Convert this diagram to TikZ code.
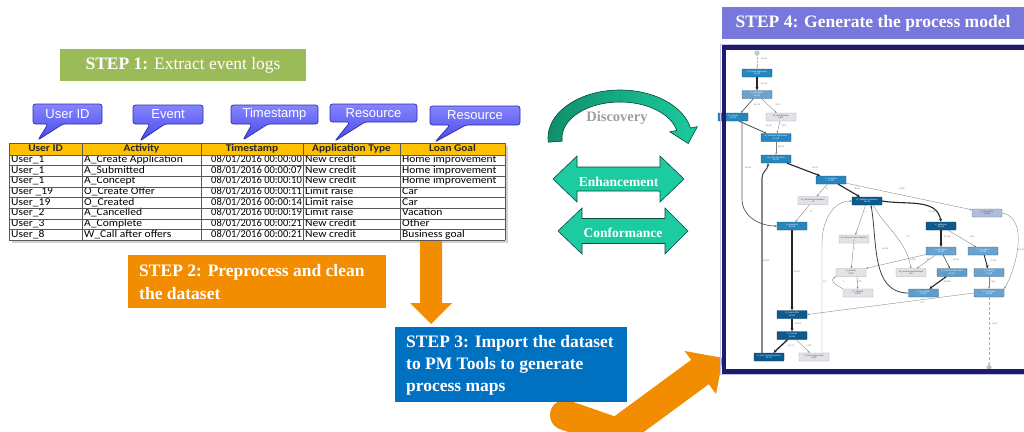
\documentclass[tikz,border=0pt]{standalone}
\usepackage{fontspec}
\setmainfont{Liberation Serif}
\newfontfamily\arialf{Liberation Sans}
\newfontfamily\calf[FakeStretch=1.1]{Carlito}
\newfontfamily\calft{Carlito}
\usetikzlibrary{arrows.meta}
\definecolor{sgreen}{HTML}{9BBB59}
\definecolor{sorange}{HTML}{F28C00}
\definecolor{sblue}{HTML}{0070C0}
\definecolor{spurple}{HTML}{7878DC}
\definecolor{navy}{HTML}{1C1C6B}
\definecolor{callA}{HTML}{8585FF}
\definecolor{callB}{HTML}{4848EA}
\definecolor{callE}{HTML}{2E2EA8}
\definecolor{tealD}{HTML}{0F8F6C}
\definecolor{tealL}{HTML}{1CCB9F}
\definecolor{tealE}{HTML}{0B4A3A}
\definecolor{hdr}{HTML}{FFC000}
\definecolor{pmdark}{HTML}{0C5A8E}
\definecolor{pmmid}{HTML}{2786BE}
\definecolor{pmlight}{HTML}{6AA3D0}
\definecolor{pmpale}{HTML}{AFBDDD}
\definecolor{pmgrey}{HTML}{E3E2E9}
\tikzset{
  stepfont/.style={font=\fontsize{17.5}{22}\selectfont, text=white},
  callshape/.style={rounded corners=2.5pt, top color=callA, bottom color=callB, draw=callE, line width=0.7pt},
  calltext/.style={font=\arialf\fontsize{13}{15}\selectfont, text=white, inner sep=0},
  hcell/.style={font=\calf\bfseries\fontsize{10.3}{11}\selectfont, text=black!85, inner sep=0, text height=6.8pt, text depth=2pt},
  dcell/.style={font=\calf\fontsize{10.5}{11}\selectfont, text=black, inner sep=0, anchor=west, text height=6.8pt, text depth=2pt},
  tcell/.style={dcell, font=\calft\fontsize{10.5}{11}\selectfont, anchor=east},
  gline/.style={draw=black!65, line width=0.5pt},
  pm/.style={rectangle, rounded corners=0.7pt, minimum width=30pt, minimum height=8pt, inner sep=0, align=center, font=\arialf\fontsize{2.1}{2.5}\selectfont, line width=0.35pt},
  pmD/.style={pm, fill=pmdark, draw=pmdark!60!black, text=white},
  pmM/.style={pm, fill=pmmid, draw=pmmid!60!black, text=white},
  pmL/.style={pm, fill=pmlight, draw=pmlight!60!black, text=white},
  pmP/.style={pm, fill=pmpale, draw=pmpale!60!black, text=black!70},
  pmG/.style={pm, fill=pmgrey, draw=black!35, text=black!75},
  pe/.style={draw=black!50, line width=0.35pt, -{Stealth[length=2.2pt,width=1.8pt]}},
  pet/.style={draw=black!85, line width=1.1pt, -{Stealth[length=3.2pt,width=3pt]}},
  pl/.style={font=\arialf\fontsize{2.1}{2.5}\selectfont, text=black!55, inner sep=0.2pt},
  greenarrow/.style={fill=tealL, draw=tealE, line width=0.6pt},
  gtext/.style={font=\fontsize{13.5}{15}\selectfont\bfseries, text=white, inner sep=0}
}
\begin{document}
\begin{tikzpicture}[x=1pt,y=1pt]
\useasboundingbox (0,0) rectangle (1024,-431);
\fill[white] (0,0) rectangle (1024,-431);

% STEP 1
\node[stepfont, fill=sgreen, minimum width=246pt, minimum height=32pt, inner sep=0] (s1) at (183,-65) {{\bfseries STEP 1:} Extract event logs};

% callouts
\path[callshape] (33,-104) -- (102,-104) -- (102,-124) -- (63,-124) -- (38,-140) -- (48,-124) -- (33,-124) -- cycle;
\node[calltext] (c1) at (67.5,-114) {User ID};
\path[callshape] (133,-105) -- (203,-105) -- (203,-124) -- (165,-124) -- (140,-141) -- (150,-124) -- (133,-124) -- cycle;
\node[calltext] (c2) at (168,-114.5) {Event};
\path[callshape] (231,-105) -- (318,-105) -- (318,-124) -- (268,-124) -- (243,-140) -- (252,-124) -- (231,-124) -- cycle;
\node[calltext] (c3) at (274.5,-114.5) {Timestamp};
\path[callshape] (330,-104) -- (417,-104) -- (417,-122) -- (365,-122) -- (335,-141) -- (350,-122) -- (330,-122) -- cycle;
\node[calltext] (c4) at (373.5,-113) {Resource};
\path[callshape] (430,-106) -- (520,-106) -- (520,-125) -- (466,-125) -- (435,-142) -- (450,-125) -- (430,-125) -- cycle;
\node[calltext] (c5) at (475,-115.5) {Resource};

% table
\fill[black!18] (12,-146) rectangle (508,-243);
\fill[white] (9,-143) rectangle (505,-240);
\fill[hdr] (9,-143) rectangle (505,-155);
\node[hcell] (h1) at (45.5,-149) {User ID};
\node[hcell] (h2) at (141.5,-149) {Activity};
\node[hcell] (h3) at (252,-149) {Timestamp};
\node[hcell] (h4) at (351.5,-149) {Application Type};
\node[hcell] (h5) at (452.5,-149) {Loan Goal};
\foreach \i/\u/\a/\s/\p/\g in {
 0/User\_1/A\_Create Application/00/New credit/Home improvement,
 1/User\_1/A\_Submitted/07/New credit/Home improvement,
 2/User\_1/A\_Concept/10/New credit/Home improvement,
 3/User \_19/O\_Create Offer/11/Limit raise/Car,
 4/User\_19/O\_Created/14/Limit raise/Car,
 5/User\_2/A\_Cancelled/19/Limit raise/Vacation,
 6/User\_3/A\_Complete/21/New credit/Other,
 7/User\_8/W\_Call after offers/21/New credit/Business goal}{
  \pgfmathsetmacro\yy{-(155+10.625*(\i+0.5))}
  \node[dcell] (u\i) at (11,\yy) {\u};
  \node[dcell] (a\i) at (84,\yy) {\a};
  \node[tcell] (t\i) at (302,\yy) {08/01/2016 00:00:\s};
  \node[dcell] (p\i) at (305,\yy) {\p};
  \node[dcell] (g\i) at (402,\yy) {\g};
}
\foreach \k in {0,...,8}{
  \draw[gline] (9,{-(155+10.625*\k)}) -- (505,{-(155+10.625*\k)});
}
\draw[gline] (9,-143) -- (505,-143);
\foreach \xx in {9,82,201,303,400,505}{
  \draw[gline] (\xx,-143) -- (\xx,-240);
}

% STEP 2
\fill[sorange] (128,-255) rectangle (386,-308);
\node[stepfont, font=\fontsize{17.5}{23}\selectfont\bfseries, anchor=west, align=left, inner sep=0] (s2) at (139,-282) {STEP 2: Preprocess and clean\\the dataset};

% orange down arrow
\fill[sorange] (420,-241) -- (442,-241) -- (442,-303) -- (452,-303) -- (431,-324) -- (410,-303) -- (420,-303) -- cycle;

% big orange chevron arrow
\draw[sorange, line width=30pt, line cap=round, line join=miter] (565,-415) -- (617,-433) -- (700,-372);
\fill[sorange] (716,-394) -- (723,-358) -- (684.6,-351) -- cycle;

% STEP 3
\fill[sblue] (395,-327) rectangle (627,-402);
\node[stepfont, font=\fontsize{17.5}{22}\selectfont\bfseries, anchor=west, align=left, inner sep=0] (s3) at (406,-365) {STEP 3: Import the dataset\\to PM Tools to generate\\process maps};

% green arrows
\path[greenarrow, left color=tealD, right color=tealL]
  plot[domain=185:12, samples=60] ({620+72*cos(\x)},{-138+48*sin(\x)})
  -- (697.3,-126.7) -- (688.2,-143.5) -- (669.8,-131.8)
  -- plot[domain=12:185, samples=60] ({620+58*cos(\x)},{-138+36*sin(\x)}) -- cycle;
\node[font=\fontsize{14.5}{16}\selectfont\bfseries, text=black!38, inner sep=0] (disc) at (617,-118) {Discovery};
\path[greenarrow] (553,-179) -- (577,-156) -- (577,-167) -- (660,-167) -- (660,-156) -- (684,-179) -- (660,-202) -- (660,-191) -- (577,-191) -- (577,-202) -- cycle;
\node[gtext] (enh) at (618.5,-182) {Enhancement};
\path[greenarrow] (558,-231) -- (582,-208) -- (582,-218.5) -- (665,-218.5) -- (665,-208) -- (688,-231) -- (665,-254) -- (665,-243.5) -- (582,-243.5) -- (582,-254) -- cycle;
\node[gtext] (conf) at (623,-233) {Conformance};

% STEP 4
\node[stepfont, font=\fontsize{17.5}{22}\selectfont\bfseries, fill=spurple, minimum width=302pt, minimum height=32pt, inner sep=0] (s4) at (873,-23) {STEP 4: Generate the process model};
\fill[white] (724,-47) rectangle (1030,-371.5);

% process model nodes
\node[circle, fill=green!25!gray!40, draw=gray!70, line width=0.3pt, minimum size=4.5pt, inner sep=0] (st) at (757,-53) {};
\node[pmM] (cra) at (757,-73) {A\_Create Application\\31,509};
\node[pmL] (sub) at (757,-94.5) {A\_Submitted\\20,423};
\node[pmM] (con) at (733,-117) {A\_Concept\\31,509};
\node[pmG] (whl) at (781,-117) {W\_Handle leads\\5,897};
\node[pmM] (wca) at (776,-137.5) {W\_Complete application\\20,423};
\node[pmM] (wco) at (776,-159) {W\_Call after offers\\25,000};
\node[pmM] (acomp) at (831,-180) {A\_Complete\\31,362};
\node[pmG] (wsc) at (813,-200.5) {W\_Shortened completion\\74};
\node[pmD] (wva) at (867,-201) {W\_Validate application\\38,816};
\node[pmP] (acan) at (987,-213) {A\_Cancelled\\10,431};
\node[pmM] (aacc) at (792,-226) {A\_Accepted\\31,509};
\node[pmD] (aval) at (941,-226) {A\_Validating\\38,816};
\node[pmG] (wplc) at (854,-239) {W\_Personal Loan collection\\2};
\node[pmL] (oret) at (941,-251) {O\_Returned\\23,305};
\node[pmL] (oacc) at (983,-251) {O\_Accepted\\17,228};
\node[pmG] (aden) at (851,-272.5) {A\_Denied\\3,753};
\node[pmG] (wapf) at (911,-272.5) {W\_Assess potential fraud\\300};
\node[pmL, fill=pmlight!80!pmmid] (wcif) at (952,-272.5) {W\_Call incomplete files\\23,055};
\node[pmL] (apend) at (989,-272.5) {A\_Pending\\17,228};
\node[pmG] (oref) at (858,-293) {O\_Refused\\4,695};
\node[pmL, fill=pmlight!80!pmmid] (ainc) at (923.5,-293) {A\_Incomplete\\23,055};
\node[pmL] (ocan) at (989,-293) {O\_Cancelled\\20,898};
\node[pmD] (oco) at (792,-314.5) {O\_Create Offer\\42,995};
\node[pmD] (ocr) at (792,-335.5) {O\_Created\\42,995};
\node[pmD] (osm) at (769,-357) {O\_Sent (mail and online)\\39,707};
\node[pmG] (oso) at (814,-357) {O\_Sent (online only)\\2,026};
\node[circle, fill=red!30!gray!45, draw=gray!70, line width=0.3pt, minimum size=4.5pt, inner sep=0] (en) at (989,-367.5) {};

% process model edges
\draw[pe, densely dotted, draw=green!30!gray!60] (st) -- (cra);
\draw[pet] (cra) -- (sub);
\draw[pe, line width=0.7pt, draw=black!65] (sub) -- ([xshift=8pt]con.north);
\draw[pe] (sub) -- (whl);
\draw[pe, line width=0.8pt, draw=black!70] ([xshift=6pt]con.south) -- (wca);
\draw[pe] (whl) -- (wca);
\draw[pe, line width=0.7pt, draw=black!65] ([xshift=9pt]con.south) -- ++(0,-78) to[out=-90,in=180] (aacc.west);
\draw[pe, line width=0.6pt] (wca) -- (wco);
\draw[pet] (wco) -- (acomp);
\draw[pe] (acomp) -- (wsc);
\draw[pet] (acomp) -- (wva);
\draw[pe] (acomp) -- (acan);
\draw[pe] (wsc) -- (aacc);
\draw[pet] (wva.east) to[out=-10,in=100] (aval.north);
\draw[pe] (wva) -- (wplc);
\draw[pe] ([xshift=6pt]wva.south) to[out=-60,in=100] (wapf.north);
\draw[pe] ([xshift=8pt]oso.north) -- ++(0,110) to[out=90,in=180] (wva.west);
\draw[pet] (aval) -- (oret);
\draw[pe] (aval) -- (oacc);
\draw[pe] (oret) -- (aden.north east);
\draw[pe] (oret) -- (wapf);
\draw[pe, line width=0.6pt, draw=black!70] (oret) -- (wcif);
\draw[pe] (wplc) -- (aden);
\draw[pet, line width=0.9pt] (oacc) -- (apend);
\draw[pe] ([xshift=6pt]aden.south) -- (oref);
\draw[pe] (oref.north west) to[out=150,in=-150,looseness=1.5] (aden.south west);
\draw[pet] (wcif) -- (ainc);
\draw[pe] (apend) -- (ocan);
\draw[pe] (acan.east) to[out=-10,in=60,looseness=0.9] (ocan.north east);
\draw[pe, line width=0.8pt, draw=black!75] (ainc.west) to[out=180,in=-80] ([xshift=4pt]wva.south);
\draw[pe] (ocan.west) -- (oco.east);
\draw[pet, line width=1.3pt] (aacc) -- (oco);
\draw[pet, line width=1.3pt] (oco) -- (ocr);
\draw[pet, line width=1.3pt] (ocr) -- (osm);
\draw[pe] (ocr) -- (oso);
\draw[pet, draw=black!70] ([xshift=-7pt]osm.north) -- ++(0,175) to[out=90,in=-90] ([xshift=-8pt]wco.south);
\draw[pe, densely dashed, draw=red!25!gray!60] (ocan) -- (en);

% edge labels
\node[pl] (l1) at (764,-59) {31,509};
\node[pl] (l2) at (764,-84) {20,423};
\node[pl] (l3) at (757,-105) {15,752};
\node[pl] (l4) at (778,-105) {3,071};
\node[pl] (l5) at (769,-125.5) {10,401};
\node[pl] (l6) at (784,-125.5) {3,071};
\node[pl] (l7) at (781,-147) {18,032};
\node[pl] (l8) at (748,-168) {23,404};
\node[pl] (l9) at (815,-168) {14,321};
\node[pl] (l10) at (827,-189) {33};
\node[pl] (l11) at (857,-189) {10,406};
\node[pl] (l12) at (902,-189) {6,239};
\node[pl] (l13) at (811,-212) {33};
\node[pl] (l14) at (932,-212) {23,182};
\node[pl] (l15) at (866,-212) {1};
\node[pl] (l16) at (947,-237) {21,028};
\node[pl] (l17) at (972,-237) {7,052};
\node[pl] (l18) at (908,-237) {170};
\node[pl] (l19) at (855,-249) {1};
\node[pl] (l20) at (885,-249) {14,306};
\node[pl] (l21) at (913,-260) {2,192};
\node[pl] (l22) at (928,-260) {729};
\node[pl] (l23) at (956,-260) {23,051};
\node[pl] (l24) at (993,-261) {17,228};
\node[pl] (l25) at (797,-272) {31,447};
\node[pl] (l26) at (766,-261) {39,825};
\node[pl] (l27) at (825,-282) {167};
\node[pl] (l28) at (844,-282) {1};
\node[pl] (l29) at (859,-282) {3,753};
\node[pl] (l30) at (947,-282) {20,858};
\node[pl] (l31) at (993,-282) {4,418};
\node[pl] (l32) at (1021,-250) {10,431};
\node[pl] (l33) at (922,-303) {722};
\node[pl] (l34) at (798,-324) {42,995};
\node[pl] (l35) at (791,-346) {39,707};
\node[pl] (l36) at (809,-346) {1,919};
\node[pl] (l37) at (995,-324) {9,127};

% frame border
\draw[spurple!45, line width=0.8pt] (720.8,-44.3) rectangle (1034,-374.8);
\draw[navy, line width=4.6pt] (724,-47.5) rectangle (1034,-371.5);
\end{tikzpicture}
\end{document}
